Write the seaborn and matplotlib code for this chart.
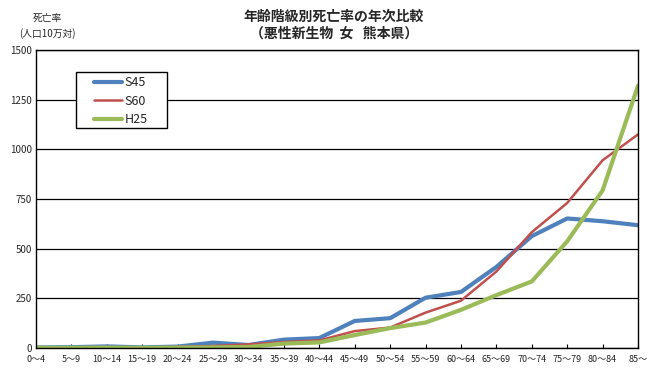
import matplotlib.pyplot as plt
import matplotlib.patches as mpatches
import numpy as np
import pandas as pd
import seaborn as sns

ages = ["0～4", "5～9", "10～14", "15～19", "20～24", "25～29", "30～34", "35～39", "40～44",
        "45～49", "50～54", "55～59", "60～64", "65～69", "70～74", "75～79", "80～84", "85～"]
s45 = [3, 4, 8, 3, 7, 27, 15, 42, 50, 136, 150, 253, 282, 408, 563, 652, 638, 618]
s60 = [2, 2, 3, 2, 5, 10, 18, 30, 38, 85, 103, 178, 238, 385, 583, 730, 945, 1075]
h25 = [1, 1, 2, 1, 2, 3, 5, 22, 28, 65, 100, 128, 192, 266, 335, 537, 793, 1320]

series = {"S45": s45, "S60": s60, "H25": h25}
df = pd.concat([pd.DataFrame({"x": np.arange(len(ages)), "rate": v, "year": k})
                for k, v in series.items()], ignore_index=True)

sns.set_style("white")
plt.rcParams['font.family'] = ['Noto Sans CJK JP', 'DejaVu Sans']

fig = plt.figure(figsize=(6.48, 3.76), dpi=100)
ax = fig.add_axes([0.0556, 0.0745, 0.929, 0.7925])

pal = {"S45": "#4F81BD", "S60": "#C0504D", "H25": "#9BBB59"}
widths = {"S45": 3, "S60": 1.8, "H25": 3}
for k in series:
    sns.lineplot(data=df[df.year == k], x="x", y="rate", color=pal[k], lw=widths[k],
                 label=k, ax=ax, sort=False)

ax.set_xlim(0, len(ages) - 1)
ax.set_ylim(0, 1500)
ax.set_yticks(range(0, 1501, 250))
ax.set_xticks(np.arange(len(ages)))
ax.set_xticklabels(ages, fontsize=6.5)
ax.tick_params(axis='y', labelsize=7, length=0, pad=3)
ax.tick_params(axis='x', direction='in', length=3, width=0.8, color='black', bottom=True, pad=5)
ax.yaxis.grid(True, color='black', lw=0.9)
ax.set_axisbelow(True)
for s in ax.spines.values():
    s.set_color('black')
    s.set_linewidth(1)
ax.set_xlabel("")
ax.set_ylabel("")

# legend box (wider than the entries, like the original)
box = mpatches.Rectangle((0.0664, 0.738), 0.151, 0.188, transform=ax.transAxes,
                         facecolor='white', edgecolor='black', lw=1, zorder=4)
ax.add_patch(box)
leg = ax.legend(loc='upper left', bbox_to_anchor=(0.097, 0.912), frameon=False,
                fontsize=9, handlelength=2.2, borderpad=0, borderaxespad=0,
                labelspacing=0.45, handletextpad=0.2)
leg.set_zorder(5)

fig.text(0.515, 0.955, "年齢階級別死亡率の年次比較", ha='center', va='center', fontsize=10, fontweight='bold')
fig.text(0.515, 0.91, "（悪性新生物  女   熊本県）", ha='center', va='center', fontsize=10, fontweight='bold')
fig.text(0.073, 0.952, "死亡率", ha='center', va='center', fontsize=7)
fig.text(0.073, 0.91, "(人口10万対)", ha='center', va='center', fontsize=7)

fig.savefig("out.png", dpi=100)
